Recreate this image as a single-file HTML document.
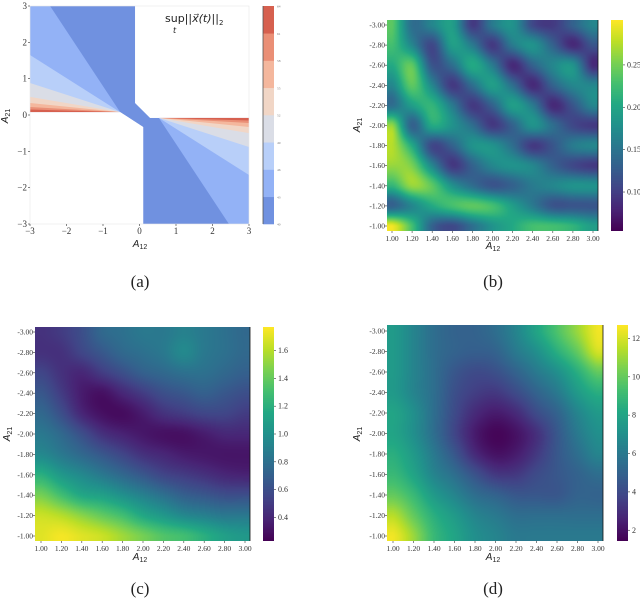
<!DOCTYPE html>
<html><head><meta charset="utf-8">
<style>
body{margin:0;background:#fff;}
#root{position:relative;width:640px;height:601px;overflow:hidden;background:#fff;font-family:"Liberation Serif",serif;}
canvas{position:absolute;}
svg{position:absolute;left:0;top:0;}
</style></head>
<body>
<div id="root">
<canvas id="cb"></canvas>
<canvas id="cc"></canvas>
<canvas id="cd"></canvas>
<canvas id="cbarB"></canvas>
<canvas id="cbarC"></canvas>
<canvas id="cbarD"></canvas>
<svg id="ov" width="640" height="601"></svg>
</div>
<script>
// ---------- data ----------
const gridA12 = [1.0,1.2,1.4,1.6,1.8,2.0,2.2,2.4,2.6,2.8,3.0];
const gridA21 = [-3.0,-2.8,-2.6,-2.4,-2.2,-2.0,-1.8,-1.6,-1.4,-1.2,-1.0];
const xTickLabels = ["1.00","1.20","1.40","1.60","1.80","2.00","2.20","2.40","2.60","2.80","3.00"];
const yTickLabels = ["-3.00","-2.80","-2.60","-2.40","-2.20","-2.00","-1.80","-1.60","-1.40","-1.20","-1.00"];

const valuesB = [
[.240,.144,.168,.192,.096,.156,.180,.108,.096,.132,.168],
[.228,.168,.108,.192,.156,.096,.156,.180,.132,.084,.120],
[.204,.240,.120,.144,.204,.156,.084,.132,.168,.180,.084],
[.168,.240,.168,.096,.144,.192,.144,.084,.132,.168,.168],
[.144,.192,.216,.156,.096,.132,.192,.156,.084,.120,.168],
[.264,.132,.204,.180,.144,.096,.132,.180,.144,.108,.096],
[.276,.204,.108,.132,.180,.180,.144,.096,.120,.156,.168],
[.264,.252,.168,.096,.132,.168,.180,.168,.132,.108,.096],
[.216,.264,.240,.180,.144,.120,.132,.156,.168,.180,.180],
[.132,.168,.204,.228,.240,.228,.192,.156,.120,.120,.120],
[.300,.228,.132,.108,.144,.180,.204,.228,.228,.216,.192]];
const cbarBTicks = [0.10,0.15,0.20,0.25];

const valuesC = [
[.45,.5,.6,.75,.8,.85,.85,.9,.85,.8,.75],
[.45,.45,.55,.65,.75,.8,.85,.95,.85,.8,.75],
[.55,.45,.4,.5,.6,.7,.75,.8,.8,.75,.7],
[.65,.5,.35,.3,.4,.5,.6,.65,.7,.65,.6],
[.75,.6,.4,.3,.28,.35,.45,.5,.55,.55,.5],
[.85,.75,.6,.45,.38,.33,.3,.3,.35,.4,.4],
[.95,.85,.75,.65,.55,.45,.4,.35,.33,.32,.32],
[1.2,1.05,.95,.85,.75,.65,.55,.5,.45,.4,.38],
[1.45,1.3,1.15,1.1,1.0,.9,.8,.7,.65,.6,.6],
[1.65,1.6,1.5,1.4,1.3,1.15,1.05,.95,.9,.85,.85],
[1.7,1.75,1.7,1.65,1.55,1.45,1.35,1.3,1.2,1.1,1.05]];
const cbarCTicks = [0.4,0.6,0.8,1.0,1.2,1.4,1.6];

const valuesD = [
[7.5,6.5,5.5,5,5,5.5,6.5,8,9.5,11,12.5],
[7.5,6.5,5.5,5,4.8,5,6,7,8.5,10,12],
[7.5,6.5,5.5,4.5,4,4.2,5,6,7,8.5,10],
[7.5,6.5,5.5,4.2,3.5,3.3,4,5,6,7.5,8.5],
[8,7,5.5,4,2.8,2.3,2.8,4,5,6.5,7.5],
[8,7,5.5,3.8,2.3,1.6,2,3,4.5,6,7],
[8.5,7.5,6,4.5,2.8,2,2.3,3.3,4.5,5.5,6.5],
[9,8,6.5,5.5,4.3,3.3,3.3,4,4.5,5,5.5],
[10,9,7.5,6.5,5.5,5,4.5,4.5,4.5,5,5],
[11.5,10,8.5,7.5,6.5,6,5.5,5.5,5.5,5.5,5.5],
[12.5,11,9,8,7,6.5,6,6,6,6,6]];
const cbarDTicks = [2,4,6,8,10,12];

// panel (a) contour data
const aTicks = [-3,-2,-1,0,1,2,3];
const aLevelColors = ['#7091e0','#93b2f6','#b8cff9','#dadde6','#f1d6c6','#f4b79d','#ea8f76','#d6604f'];
const aBoundaryEdgeA12 = [-2.45,-3,-3,-3,-3,-3,-3];
const aBoundaryEdgeA21 = [3,1.65,0.88,0.5,0.33,0.22,0.15];
const aApex = [-0.53,0.08];
const aRegion = [[-3,3],[-0.12,3],[-0.12,0.33],[0.29,-0.08],[3,-0.08],[3,-3],[0.1,-3],[0.1,-0.33],[-0.53,0.08],[-3,0.08]];
</script>
<script>
const NS='http://www.w3.org/2000/svg';
const ov=document.getElementById('ov');
function el(tag,attrs,parent,text){const e=document.createElementNS(NS,tag);for(const k in attrs)e.setAttribute(k,attrs[k]);if(text!==undefined)e.textContent=text;(parent||ov).appendChild(e);return e;}
const VIR=[[68,1,84],[72,36,117],[65,68,135],[53,95,141],[42,120,142],[33,145,140],[34,168,132],[68,191,112],[122,209,81],[189,223,38],[253,231,37]];
function viridis(t){t=Math.max(0,Math.min(1,t));const f=t*10,i=Math.min(9,Math.floor(f)),u=f-i;const a=VIR[i],b=VIR[i+1];return [a[0]+(b[0]-a[0])*u,a[1]+(b[1]-a[1])*u,a[2]+(b[2]-a[2])*u];}
function cr(p0,p1,p2,p3,t){return p1+0.5*t*(p2-p0+t*(2*p0-5*p1+4*p2-p3+t*(3*(p1-p2)+p3-p0)));}

function heatmap(id,vals,box,tickBox,vmin,vmax){
  const c=document.getElementById(id);c.width=box.w;c.height=box.h;c.style.left=box.x+'px';c.style.top=box.y+'px';
  const ctx=c.getContext('2d');const img=ctx.createImageData(box.w,box.h);
  const nx=gridA12.length,ny=gridA21.length;
  const V=(i,j)=>vals[Math.max(0,Math.min(ny-1,i))][Math.max(0,Math.min(nx-1,j))];
  for(let py=0;py<box.h;py++){
    const sy=box.y+py+0.5;let gy=(sy-tickBox.y0)/(tickBox.y1-tickBox.y0)*(ny-1);gy=Math.max(0,Math.min(ny-1.0001,gy));
    const iy=Math.floor(gy),fy=gy-iy;
    for(let px=0;px<box.w;px++){
      const sx=box.x+px+0.5;let gx=(sx-tickBox.x0)/(tickBox.x1-tickBox.x0)*(nx-1);gx=Math.max(0,Math.min(nx-1.0001,gx));
      const ix=Math.floor(gx),fx=gx-ix;
      const r=[];
      for(let k=-1;k<=2;k++)r.push(cr(V(iy+k,ix-1),V(iy+k,ix),V(iy+k,ix+1),V(iy+k,ix+2),fx));
      const v=cr(r[0],r[1],r[2],r[3],fy);
      const col=viridis((v-vmin)/(vmax-vmin));const k=(py*box.w+px)*4;
      img.data[k]=col[0];img.data[k+1]=col[1];img.data[k+2]=col[2];img.data[k+3]=255;
    }
  }
  ctx.putImageData(img,0,0);
}
function colorbar(id,cb,vmin,vmax,ticks,fmt,name){
  const c=document.getElementById(id);c.width=cb.w;c.height=cb.h;c.style.left=cb.x+'px';c.style.top=cb.y+'px';
  const ctx=c.getContext('2d');
  for(let py=0;py<cb.h;py++){const col=viridis(1-py/(cb.h-1));ctx.fillStyle='rgb('+col.map(Math.round).join(',')+')';ctx.fillRect(0,py,cb.w,1);}
  const g=el('g',{});
  
  
  ticks.forEach(t=>{const y=cb.y+cb.h*(1-(t-vmin)/(vmax-vmin));
    el('line',{x1:cb.x+cb.w,x2:cb.x+cb.w+2,y1:y,y2:y,stroke:'#333','stroke-width':0.6},g);
    const tx=el('text',{x:cb.x+cb.w+4,y:y+2.5,'font-size':8,fill:'#333','font-family':'Liberation Serif, serif'},g,fmt(t));
    
    
  });
}
function axes(panel,tb,box,xl,yl){
  const g=el('g',{});
  
  
  const n=gridA12.length;
  for(let i=0;i<n;i++){
    const x=tb.x0+(tb.x1-tb.x0)*i/(n-1);
    el('line',{x1:x,x2:x,y1:box.y+box.h,y2:box.y+box.h+2,stroke:'#333','stroke-width':0.6},g);
    const t=el('text',{x:x,y:box.y+box.h+10,'font-size':7.5,'text-anchor':'middle',fill:'#333','font-family':'Liberation Serif, serif'},g,xTickLabels[i]);
    
    
    const y=tb.y0+(tb.y1-tb.y0)*i/(n-1);
    el('line',{x1:box.x-2,x2:box.x,y1:y,y2:y,stroke:'#333','stroke-width':0.6},g);
    const t2=el('text',{x:box.x-2,y:y+2.5,'font-size':7.5,'text-anchor':'end',fill:'#333','font-family':'Liberation Serif, serif'},g,yTickLabels[i]);
    
    
  }
  el('line',{x1:box.x+box.w,x2:box.x+box.w,y1:box.y,y2:box.y+box.h,stroke:'#111','stroke-width':0.8},g);
  axisLabels(g,xl,yl);
}
function axisLabels(g,xl,yl){
  const a=el('text',{x:xl[0],y:xl[1],'font-size':10,'text-anchor':'middle',fill:'#222','font-family':'Liberation Sans, sans-serif','font-style':'italic'},g);
  
  a.appendChild(document.createTextNode('A'));el('tspan',{'font-size':7,dy:2,'font-style':'normal'},a,'12');
  const b=el('text',{x:0,y:0,'font-size':10,'text-anchor':'middle',fill:'#222','font-family':'Liberation Sans, sans-serif','font-style':'italic',transform:'translate('+yl[0]+','+yl[1]+') rotate(-90)'},g);
  
  b.appendChild(document.createTextNode('A'));el('tspan',{'font-size':7,dy:2,'font-style':'normal'},b,'21');
}

// panel b
const boxB={x:387,y:20,w:211,h:211},tbB={x0:392,x1:593,y0:25,y1:226};
heatmap('cb',valuesB,boxB,tbB,0.054,0.303);
colorbar('cbarB',{x:611,y:20,w:12,h:211},0.054,0.303,cbarBTicks,t=>t.toFixed(2),'colorbar-b');
axes('b',tbB,boxB,[493,249],[360,125]);
// panel c
const boxC={x:35,y:327,w:215,h:214},tbC={x0:41,x1:245,y0:332,y1:536};
heatmap('cc',valuesC,boxC,tbC,0.23,1.77);
colorbar('cbarC',{x:263,y:327,w:11,h:214},0.23,1.77,cbarCTicks,t=>t.toFixed(1),'colorbar-c');
axes('c',tbC,boxC,[140,560],[10,434]);
// panel d
const boxD={x:387,y:325,w:216,h:216},tbD={x0:393,x1:598,y0:331,y1:536};
heatmap('cd',valuesD,boxD,tbD,1.44,12.7);
colorbar('cbarD',{x:617,y:325,w:11,h:216},1.44,12.7,cbarDTicks,t=>String(t),'colorbar-d');
axes('d',tbD,boxD,[493,560],[360,434]);

// panel a
const sxA=a=>30+(a+3)/6*219, syA=a=>6+(3-a)/6*218;
const gA=el('g',{});


const defs=el('defs',{});
const cp=el('clipPath',{id:'regA'},defs);
el('polygon',{points:aRegion.map(p=>sxA(p[0])+','+syA(p[1])).join(' ')},cp);
const gClip=el('g',{'clip-path':'url(#regA)'},gA);
const base=el('polygon',{points:aRegion.map(p=>sxA(p[0])+','+syA(p[1])).join(' '),fill:aLevelColors[0]},gClip);


[1,-1].forEach(sgn=>{
  for(let k=0;k<aBoundaryEdgeA12.length;k++){
    const pts=[[aApex[0],aApex[1]],[aBoundaryEdgeA12[k],aBoundaryEdgeA21[k]]];
    if(aBoundaryEdgeA21[k]>=3)pts.push([-3,3]);
    pts.push([-3,aApex[1]]);
    const poly=el('polygon',{points:pts.map(p=>sxA(sgn*p[0])+','+syA(sgn*p[1])).join(' '),fill:aLevelColors[k+1]},gClip);
    
    
  }
});
el('rect',{x:30,y:6,width:219,height:218,fill:'none',stroke:'#e6e6e6','stroke-width':0.6},gA);
aTicks.forEach(t=>{
  el('line',{x1:sxA(t),x2:sxA(t),y1:224,y2:226,stroke:'#333','stroke-width':0.6},gA);
  const tx=el('text',{x:sxA(t),y:234,'font-size':9,'text-anchor':'middle',fill:'#333','font-family':'Liberation Serif, serif'},gA,t<0?'\u2212'+(-t):String(t));
  
  el('line',{x1:28,x2:30,y1:syA(t),y2:syA(t),stroke:'#333','stroke-width':0.6},gA);
  const ty=el('text',{x:27,y:syA(t)+3,'font-size':9,'text-anchor':'end',fill:'#333','font-family':'Liberation Serif, serif'},gA,t<0?'\u2212'+(-t):String(t));
  
});
axisLabels(gA,[140,247],[8,116]);
// colorbar a
const cbA=el('g',{});


aLevelColors.forEach((c,i)=>{const h=218/8;el('rect',{x:263,y:6+218-(i+1)*h,width:11,height:h+0.3,fill:c},cbA);});
el('line',{x1:263,x2:263,y1:6,y2:224,stroke:'#555','stroke-width':0.8},cbA);
for(let i=0;i<=8;i++){const y=6+218-i*218/8;el('text',{x:277,y:y+1.5,'font-size':3.5,fill:'#777'},cbA,String(40+i*3));}
// title a
const ttl=el('text',{x:165,y:22,'font-size':11,fill:'#222','font-family':'DejaVu Sans, sans-serif'},gA,'sup||');

el('tspan',{'font-style':'italic'},ttl,'x\u20D7(t)');ttl.appendChild(document.createTextNode('||'));
el('tspan',{'font-size':7,dy:3},ttl,'2');
el('text',{x:173,y:33,'font-size':8,'font-style':'italic',fill:'#222','font-family':'DejaVu Sans, sans-serif'},gA,'t');

// captions
[['(a)',140,287],['(b)',493,287],['(c)',140,594],['(d)',493,594]].forEach(c=>{
  const t=el('text',{x:c[1],y:c[2],'font-size':17,'text-anchor':'middle',fill:'#222','font-family':'Liberation Serif, serif'},ov,c[0]);
  
  
});
</script>
</body></html>
